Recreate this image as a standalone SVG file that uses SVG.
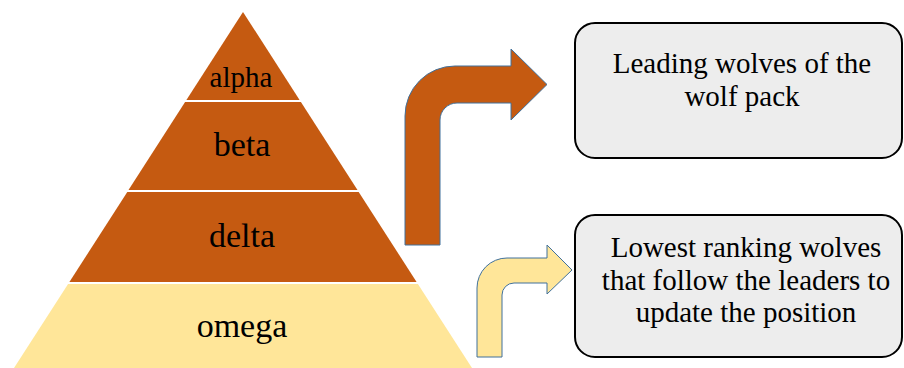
<svg xmlns="http://www.w3.org/2000/svg" width="904" height="368" viewBox="0 0 904 368">
  <style>
    .dark { fill: #C55A11; }
    .light { fill: #FFE699; }
    text { font-family: 'Liberation Serif', serif; fill: #000; text-anchor: middle; }
    .box { fill: #EDEDED; stroke: #000; stroke-width: 2; }
    .arrow { stroke: #41719C; stroke-width: 1; }
  </style>
  <rect width="904" height="368" fill="#fff"/>
  <g id="alpha">
    <polygon class="dark" points="243,12 299.6,100 186.4,100"/>
    <text x="241" y="87" font-size="29" font-family="Liberation Serif, serif">alpha</text>
  </g>
  <g id="beta">
    <polygon class="dark" points="185.1,102 300.9,102 357.5,190 128.5,190"/>
    <text x="242" y="156" font-size="34" font-family="Liberation Serif, serif">beta</text>
  </g>
  <g id="delta">
    <polygon class="dark" points="127.3,192 358.7,192 416.6,282 69.4,282"/>
    <text x="242" y="247" font-size="34" font-family="Liberation Serif, serif">delta</text>
  </g>
  <g id="omega">
    <polygon class="light" points="68.1,284 417.9,284 472,368 14,368"/>
    <text x="242" y="337" font-size="34" font-family="Liberation Serif, serif">omega</text>
  </g>
  <g id="connectors">
    <path class="dark arrow" d="M405,245 L405,116 A50,50 0 0 1 455,66 L511,66 L511,49 L547,84.5 L511,120 L511,103 L457,103 A17,17 0 0 0 440,120 L440,245 Z"/>
    <path class="light arrow" d="M477,357 L477,288 A30,30 0 0 1 507,258 L547,258 L547,245 L572,270 L547,294 L547,283 L514,283 A12,12 0 0 0 502,295 L502,357 Z"/>
  </g>
  <g id="leaders-box">
    <rect class="box" x="575" y="23" width="327" height="135" rx="20" ry="20"/>
    <text x="742" y="73" font-size="29" font-family="Liberation Serif, serif">Leading wolves of the</text>
    <text x="742" y="106" font-size="29" font-family="Liberation Serif, serif">wolf pack</text>
  </g>
  <g id="followers-box">
    <rect class="box" x="575" y="215" width="327" height="142" rx="20" ry="20"/>
    <text x="746" y="257" font-size="29" font-family="Liberation Serif, serif">Lowest ranking wolves</text>
    <text x="746" y="290" font-size="29" font-family="Liberation Serif, serif">that follow the leaders to</text>
    <text x="746" y="322" font-size="29" font-family="Liberation Serif, serif">update the position</text>
  </g>
</svg>
